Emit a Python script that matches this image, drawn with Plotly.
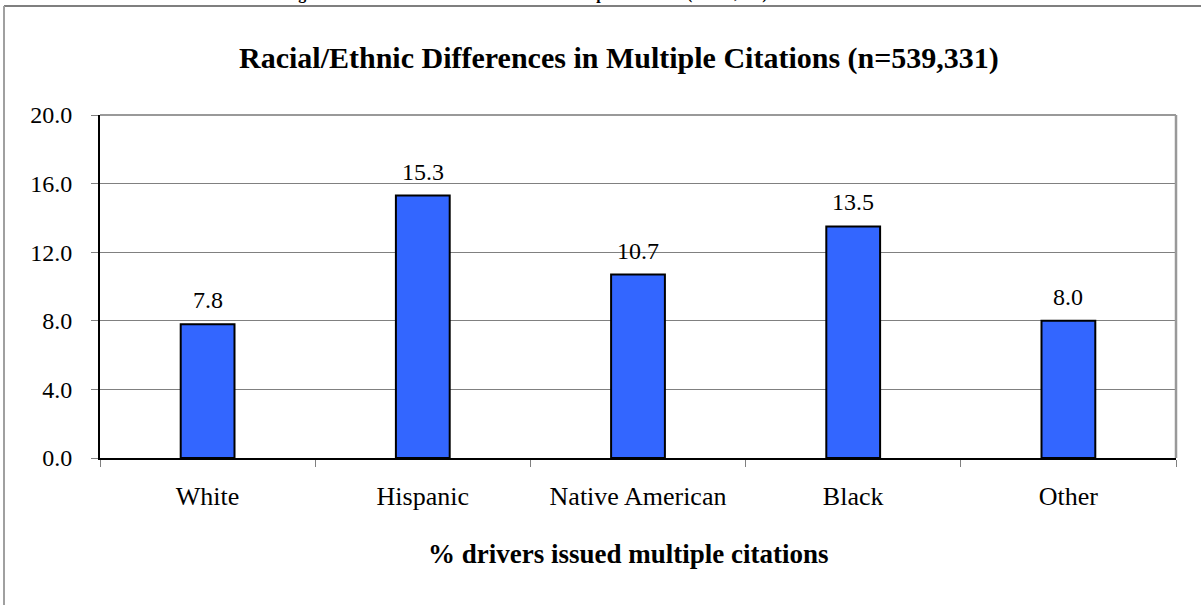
import plotly.graph_objects as go

# Share of drivers issued multiple citations, by race/ethnicity
groups = ["White", "Hispanic", "Native American", "Black", "Other"]
pct_multiple = [7.8, 15.3, 10.7, 13.5, 8.0]
y_ticks = [0, 4, 8, 12, 16, 20]

SERIF = "Liberation Serif, Times New Roman, serif"

W, H = 1201, 605
L, R, T, B = 100, 25, 115, 147
pw, ph = W - L - R, H - T - B


def px(x):
    """pixel column -> paper x"""
    return (x - L) / pw


def py(y):
    """pixel row -> paper y"""
    return (H - B - y) / ph


fig = go.Figure()
fig.add_trace(go.Bar(
    x=groups,
    y=pct_multiple,
    width=0.25,
    marker=dict(color="#3366FF", line=dict(color="#000000", width=2)),
    hoverinfo="skip",
))

# value labels above each bar
for g, v in zip(groups, pct_multiple):
    fig.add_annotation(
        x=g, y=v, xref="x", yref="y", text=f"{v:.1f}",
        showarrow=False, yanchor="bottom", yshift=9,
        font=dict(family=SERIF, size=24, color="#000000"),
    )

# chart title
fig.add_annotation(
    x=px(619), y=py(58), xref="paper", yref="paper", xanchor="center", yanchor="middle",
    text="<b>Racial/Ethnic Differences in Multiple Citations (n=539,331)</b>",
    showarrow=False, font=dict(family=SERIF, size=30, color="#000000"),
)
# horizontal axis caption
fig.add_annotation(
    x=px(628), y=py(554), xref="paper", yref="paper", xanchor="center", yanchor="middle",
    text="<b>% drivers issued multiple citations</b>",
    showarrow=False, font=dict(family=SERIF, size=27, color="#000000"),
)
# figure caption sitting above the chart frame
fig.add_annotation(
    x=px(770), y=py(5), xref="paper", yref="paper", xanchor="right", yanchor="bottom",
    text="<b>Figure 4.4: Racial/Ethnic Differences in Multiple Citations (n=539,331)</b>",
    showarrow=False, font=dict(family=SERIF, size=16, color="#000000"),
)

shapes = [
    # outer chart frame
    dict(type="line", xref="paper", yref="paper", x0=px(4), x1=px(1215), y0=py(6), y1=py(6),
         line=dict(color="#7f7f7f", width=2)),
    dict(type="line", xref="paper", yref="paper", x0=px(4), x1=px(4), y0=py(6), y1=py(620),
         line=dict(color="#a0a0a0", width=2)),
    # plot area top and right edges
    dict(type="line", xref="paper", yref="paper", x0=0, x1=1, y0=1, y1=1,
         line=dict(color="#999999", width=2)),
    dict(type="line", xref="paper", yref="paper", x0=1, x1=1, y0=0, y1=1,
         line=dict(color="#999999", width=2.5)),
]

fig.update_layout(
    width=W, height=H,
    margin=dict(l=L, r=R, t=T, b=B),
    paper_bgcolor="#ffffff", plot_bgcolor="#ffffff",
    showlegend=False,
    shapes=shapes,
    font=dict(family=SERIF, size=24, color="#000000"),
    xaxis=dict(
        showline=True, linecolor="#000000", linewidth=2,
        ticks="outside", tickson="boundaries", ticklen=7, tickcolor="#808080",
        ticklabelstandoff=14,
        tickfont=dict(family=SERIF, size=26, color="#000000"),
        showgrid=False, fixedrange=True,
    ),
    yaxis=dict(
        range=[0, 20], tickvals=y_ticks, tickformat=".1f",
        showline=True, linecolor="#000000", linewidth=2,
        ticks="outside", ticklen=7, tickcolor="#808080",
        ticklabelstandoff=14,
        showgrid=True, gridcolor="#808080", gridwidth=1,
        zeroline=False,
        tickfont=dict(family=SERIF, size=24, color="#000000"),
        fixedrange=True,
    ),
)

fig.write_html("out.html")
